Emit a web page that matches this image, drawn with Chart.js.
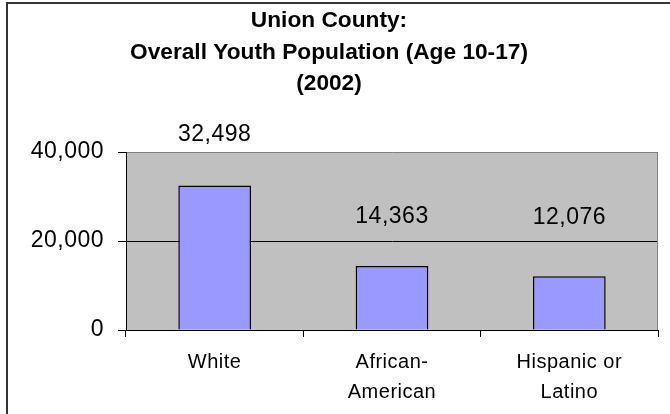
<!DOCTYPE html>
<html>
<head>
<meta charset="utf-8">
<script src="https://cdn.jsdelivr.net/npm/chart.js"></script>
<style>
  html, body { margin: 0; padding: 0; background: #ffffff; }
  #wrap { width: 670px; height: 414px; position: relative; }
</style>
</head>
<body>
<div id="wrap"><canvas id="c" width="670" height="414"></canvas></div>
<script>
// ---- data ----
const titleLines = ['Union County:', 'Overall Youth Population (Age 10-17)', '(2002)'];
const categories = ['White', ['African-', 'American'], ['Hispanic or', 'Latino']];
const population = [32498, 14363, 12076];
const yMin = 0;
const yMax = 40000;
const yStep = 20000;

// ---- presentation ----
const labelLift = [51, 49, 59]; // how far each value label sits above its bar (px)
const FONT = "'Liberation Sans', Arial, sans-serif";
const SPACING = '0.5px';
const fmt = v => v.toLocaleString('en-US');

const decor = {
  id: 'decor',
  beforeUpdate(chart) { chart.ctx.letterSpacing = SPACING; },
  beforeLayout(chart) { chart.ctx.letterSpacing = SPACING; },
  beforeDraw(chart) {
    const ctx = chart.ctx;
    ctx.letterSpacing = SPACING;
    const a = chart.chartArea;
    ctx.save();
    ctx.fillStyle = '#ffffff';
    ctx.fillRect(0, 0, chart.width, chart.height);
    ctx.fillStyle = '#C0C0C0';
    ctx.fillRect(a.left, a.top, a.right - a.left, a.bottom - a.top);
    ctx.strokeStyle = '#333333';
    ctx.lineWidth = 2;
    ctx.strokeRect(7, 3, 800, 600);
    ctx.restore();
  },
  afterDatasetsDraw(chart) {
    const ctx = chart.ctx;
    const a = chart.chartArea;
    ctx.save();
    ctx.strokeStyle = '#808080';
    ctx.lineWidth = 1;
    ctx.beginPath();
    ctx.moveTo(Math.round(a.right) - 0.5, a.top);
    ctx.lineTo(Math.round(a.right) - 0.5, a.bottom);
    ctx.stroke();
    const meta = chart.getDatasetMeta(0);
    ctx.fillStyle = '#000000';
    ctx.font = '23px ' + FONT;
    ctx.letterSpacing = SPACING;
    ctx.textAlign = 'center';
    ctx.textBaseline = 'middle';
    meta.data.forEach((bar, i) => {
      ctx.fillText(fmt(population[i]), bar.x, bar.y - labelLift[i]);
    });
    ctx.restore();
  }
};

const chart = new Chart(document.getElementById('c'), {
  type: 'bar',
  data: {
    labels: categories,
    datasets: [{
      data: population,
      backgroundColor: '#9999FF',
      borderColor: '#000000',
      borderWidth: 1.5,
      categoryPercentage: 1.0,
      barPercentage: 0.41
    }]
  },
  options: {
    responsive: false,
    animation: false,
    layout: { padding: { left: 0, right: 12, top: 0, bottom: 0 } },
    plugins: {
      legend: { display: false },
      tooltip: { enabled: false },
      title: {
        display: true,
        text: titleLines,
        color: '#000000',
        font: { family: FONT, size: 22.7, weight: 'bold', lineHeight: '31.5px' },
        padding: { top: 5, bottom: 52.5 }
      }
    },
    scales: {
      x: {
        offset: true,
        grid: {
          offset: true,
          drawOnChartArea: false,
          drawTicks: true,
          tickLength: 7,
          color: '#000000',
          tickColor: '#000000'
        },
        border: { display: true, color: '#000000', width: 1 },
        ticks: {
          color: '#000000',
          padding: 10,
          maxRotation: 0,
          autoSkip: false,
          font: { family: FONT, size: 20, lineHeight: '30px' }
        },
        afterFit(scale) { scale.height = 84; }
      },
      y: {
        min: yMin,
        max: yMax,
        grid: {
          drawTicks: true,
          tickLength: 8,
          color: ctx => (ctx.tick && ctx.tick.value === yMax) ? '#808080' : '#000000',
          tickColor: '#000000'
        },
        border: { display: true, color: '#000000', width: 1 },
        ticks: {
          stepSize: yStep,
          color: '#000000',
          padding: 14,
          font: { family: FONT, size: 23 },
          callback: v => fmt(v)
        },
        afterFit(scale) { scale.width = 126; }
      }
    }
  },
  plugins: [decor]
});

// per-element letter spacing: title tight, category labels a little wider
function withSpacing(box, spacing) {
  const orig = box.draw.bind(box);
  box.draw = function (area) {
    const ctx = chart.ctx;
    ctx.save();
    ctx.letterSpacing = spacing;
    orig(area);
    ctx.restore();
  };
}
if (chart.titleBlock) withSpacing(chart.titleBlock, '0px');
if (chart.scales.x) withSpacing(chart.scales.x, '1px');
chart.draw();
</script>
</body>
</html>
